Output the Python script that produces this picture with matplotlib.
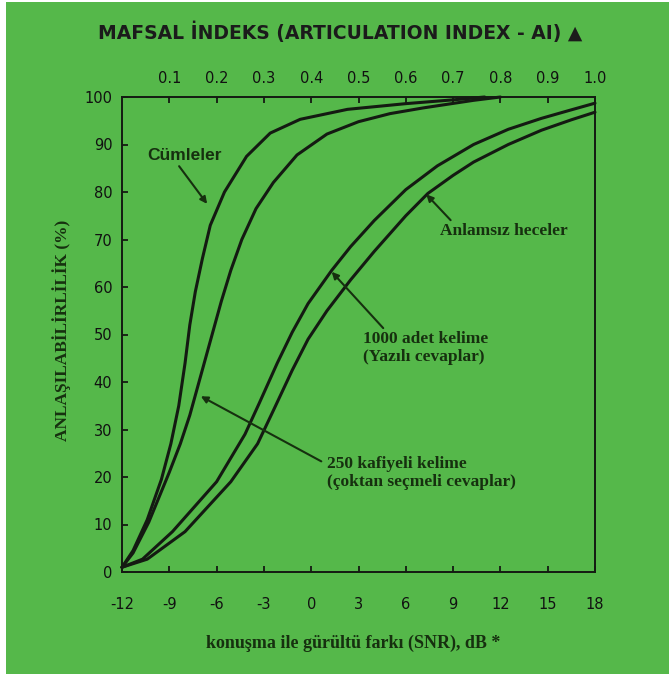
import numpy as np
import matplotlib.pyplot as plt
from matplotlib.patches import Rectangle

# ---- data --------------------------------------------------------------
snr_cumle = [-12, -11.3, -10.4, -9.5, -8.9, -8.4, -8.0, -7.7, -7.35, -6.9, -6.4, -5.5,
             -4.1, -2.6, -0.7, 2.3, 6.0, 9.0, 11.0]
val_cumle = [1, 4.5, 11, 19.5, 27, 35, 44, 52, 59, 66, 73, 80,
             87.5, 92.4, 95.3, 97.4, 98.6, 99.4, 100]

snr_kafiye = [-12, -11.3, -10.3, -9.0, -8.3, -7.7, -7.2, -6.7, -6.2, -5.7, -5.1, -4.4,
              -3.5, -2.4, -0.9, 1.0, 3.0, 5.0, 7.1, 10.3, 12.0]
val_kafiye = [1, 4, 10.5, 21, 27, 33, 39, 45, 51, 57, 63.5, 70,
              76.5, 82, 87.8, 92.2, 94.8, 96.5, 97.7, 99.3, 100]

snr_kelime = [-12, -10.7, -8.8, -6.0, -4.2, -3.3, -2.15, -1.2, -0.2, 1.3, 2.5,
              4.0, 6.0, 8.0, 10.3, 12.5, 14.6, 16.5, 18.0]
val_kelime = [1, 2.7, 8.5, 19, 29, 35.5, 44, 50.5, 56.5, 63.5, 68.5,
              74, 80.5, 85.5, 90, 93.2, 95.5, 97.3, 98.7]

snr_hece = [-12, -10.4, -8.0, -5.1, -3.4, -2.4, -1.2, -0.2, 1.0, 2.5, 4.0,
            6.0, 7.4, 9.0, 10.3, 12.5, 14.6, 16.5, 18.0]
val_hece = [1, 2.7, 8.5, 19, 27, 34, 42.5, 49, 55, 61.5, 67.5,
            75, 79.7, 83.5, 86.3, 90, 93, 95.2, 96.8]

x_ticks = [-12, -9, -6, -3, 0, 3, 6, 9, 12, 15, 18]
y_ticks = [0, 10, 20, 30, 40, 50, 60, 70, 80, 90, 100]
ai_ticks = [0.1, 0.2, 0.3, 0.4, 0.5, 0.6, 0.7, 0.8, 0.9, 1.0]

GREEN = "#55b84a"
INK = "#141a12"
TXT = "#16300f"

fig = plt.figure(figsize=(6.69, 6.74), dpi=100, facecolor="white")
fig.patches.append(Rectangle((6 / 669, 0), 1, 1 - 2 / 674, transform=fig.transFigure,
                             facecolor=GREEN, edgecolor="none", zorder=-10))

ax = fig.add_axes([122 / 669, 1 - 572 / 674, (595 - 122) / 669, (572 - 97) / 674])
ax.set_facecolor("none")

for s, v in [(snr_cumle, val_cumle), (snr_kafiye, val_kafiye),
             (snr_kelime, val_kelime), (snr_hece, val_hece)]:
    ax.plot(s, v, color=INK, lw=2.2, solid_capstyle="round", clip_on=False)

ax.set_xlim(-12, 18)
ax.set_ylim(0, 100)
ax.set_xticks(x_ticks)
ax.set_yticks(y_ticks)
ax.set_xticklabels([str(t) for t in x_ticks])
for sp in ax.spines.values():
    sp.set_color(INK)
    sp.set_linewidth(1.4)
ax.tick_params(direction="in", length=4, width=1.3, color=INK, labelsize=10.5,
               labelcolor="#111111", pad=18)
ax.tick_params(axis="y", pad=7)

top = ax.twiny()
top.set_xlim(0, 1)
top.set_xticks(ai_ticks)
top.set_xticklabels([f"{t:.1f}" for t in ai_ticks])
top.tick_params(direction="in", length=4, width=1.3, color=INK, labelsize=10.5,
                labelcolor="#111111", pad=8)
for sp in top.spines.values():
    sp.set_visible(False)

fig.text(0.508, 1 - 32 / 674, "MAFSAL İNDEKS (ARTICULATION INDEX - AI) ▲",
         ha="center", va="center", fontsize=13.5, fontweight="bold",
         family="DejaVu Sans", color="#1b1b1b")

serif = dict(family="Liberation Serif", fontweight="bold", color=TXT)
fig.text(62 / 669, 1 - 330 / 674, "ANLAŞILABİLİRLİLİK (%)", rotation=90,
         ha="center", va="center", fontsize=12.5, **serif)
fig.text(353 / 669, 1 - 643 / 674, "konuşma ile gürültü farkı (SNR), dB *",
         ha="center", va="center", fontsize=13, **serif)

arrow = dict(arrowstyle="-|>", color=TXT, lw=1.5, mutation_scale=10,
             shrinkA=0, shrinkB=0)
ax.annotate("Cümleler", xy=(-6.6, 77.5), xytext=(-10.4, 87.6), fontsize=12.5,
            fontweight="bold", family="Liberation Sans", color=TXT,
            ha="left", va="center", arrowprops=dict(arrow, relpos=(0.4, 0)))
ax.annotate("Anlamsız heceler", xy=(7.3, 79.5), xytext=(8.2, 71.8), fontsize=12.5,
            ha="left", va="center", arrowprops=dict(arrow, relpos=(0.1, 1)), **serif)
ax.annotate("1000 adet kelime\n(Yazılı cevaplar)", xy=(1.3, 63.2), xytext=(3.3, 47.2),
            fontsize=12.5, ha="left", va="center", linespacing=1.15,
            arrowprops=dict(arrow, relpos=(0.18, 1)), **serif)
ax.annotate("250 kafiyeli kelime\n(çoktan seçmeli cevaplar)", xy=(-7.0, 37),
            xytext=(1.0, 20.8), fontsize=12.5, ha="left", va="center", linespacing=1.15,
            arrowprops=dict(arrow, relpos=(-0.03, 0.85)), **serif)

fig.savefig("out.png", dpi=100, facecolor="white")
